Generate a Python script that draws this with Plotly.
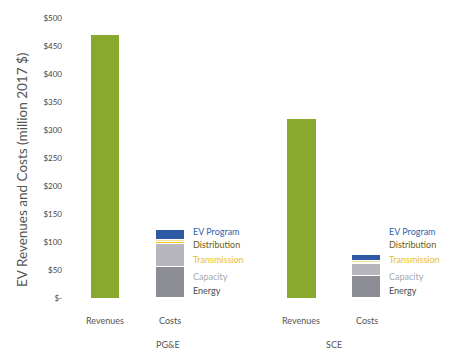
import plotly.graph_objects as go

# ---- data ----
revenue_x = [0, 3]
revenues = [470, 320]           # PG&E, SCE revenues
cost_x = [1, 4]
energy = [55, 40]
capacity = [41, 20]
transmission = [4, 3]
distribution = [4, 3]
ev_program = [18, 10]

cat_x = [0, 1, 3, 4]
cat_labels = ["Revenues", "Costs", "Revenues", "Costs"]
group_x = [0.97, 3.5]
group_labels = ["PG&E", "SCE"]

y_ticks = [0, 50, 100, 150, 200, 250, 300, 350, 400, 450, 500]
y_ticktext = ["$-", "$50", "$100", "$150", "$200", "$250", "$300", "$350", "$400", "$450", "$500"]

seg_names = ["EV Program", "Distribution", "Transmission", "Capacity", "Energy"]
seg_label_y = [118, 95, 68, 39, 14]
seg_label_colors = ["#2f5fb0", "#6b5c12", "#e8c21c", "#a8a8ae", "#4a4a50"]

FONT = "Lato"
W = 0.44
PLOT_L, PLOT_R, PLOT_T, PLOT_B = 63, 445, 18, 298


def px_to_paper_y(py):
    return (PLOT_B - py) / (PLOT_B - PLOT_T)


def px_to_paper_x(px):
    return (px - PLOT_L) / (PLOT_R - PLOT_L)


fig = go.Figure()
fig.add_trace(go.Bar(x=revenue_x, y=revenues, width=W, marker=dict(color="#88a82e", line=dict(width=0)),
                     name="Revenues", showlegend=False))
for vals, col, nm in [(energy, "#8d8d95", "Energy"), (capacity, "#b6b6bc", "Capacity"),
                      (transmission, "#f1c40f", "Transmission"), (distribution, "#f3e29a", "Distribution"),
                      (ev_program, "#2f5aa3", "EV Program")]:
    fig.add_trace(go.Bar(x=cost_x, y=vals, width=W, name=nm, showlegend=False,
                         marker=dict(color=col, line=dict(color="white", width=1))))

ann = []
for cx in cost_x:
    for nm, yy, c in zip(seg_names, seg_label_y, seg_label_colors):
        ann.append(dict(x=cx + W / 2, y=yy, xref="x", yref="y", text=nm, showarrow=False,
                        xanchor="left", xshift=6, font=dict(family=FONT, size=9, color=c)))
for xx, t in zip(cat_x, cat_labels):
    ann.append(dict(x=xx, y=px_to_paper_y(320), xref="x", yref="paper", text=t, showarrow=False,
                    xanchor="center", yanchor="middle", font=dict(family=FONT, size=9, color="#555")))
for xx, t in zip(group_x, group_labels):
    ann.append(dict(x=xx, y=px_to_paper_y(344), xref="x", yref="paper", text=t, showarrow=False,
                    xanchor="center", yanchor="middle", font=dict(family=FONT, size=9, color="#555")))
ann.append(dict(x=px_to_paper_x(22), y=px_to_paper_y(170), xref="paper", yref="paper",
                text="EV Revenues and Costs (million 2017 $)", xanchor="center", yanchor="middle",
                showarrow=False, textangle=-90, font=dict(family=FONT, size=13.5, color="#555")))

fig.update_layout(
    width=461, height=352,
    margin=dict(l=PLOT_L, r=461 - PLOT_R, t=PLOT_T, b=352 - PLOT_B),
    paper_bgcolor="white", plot_bgcolor="white",
    barmode="stack", bargap=0,
    xaxis=dict(range=[-0.643, 5.2], showticklabels=False, showgrid=False, zeroline=False, showline=False),
    yaxis=dict(range=[0, 500], tickvals=y_ticks, ticktext=y_ticktext, showgrid=False, zeroline=False,
               showline=False, tickfont=dict(family=FONT, size=8, color="#444")),
    annotations=ann,
)

fig.write_html("out.html")
